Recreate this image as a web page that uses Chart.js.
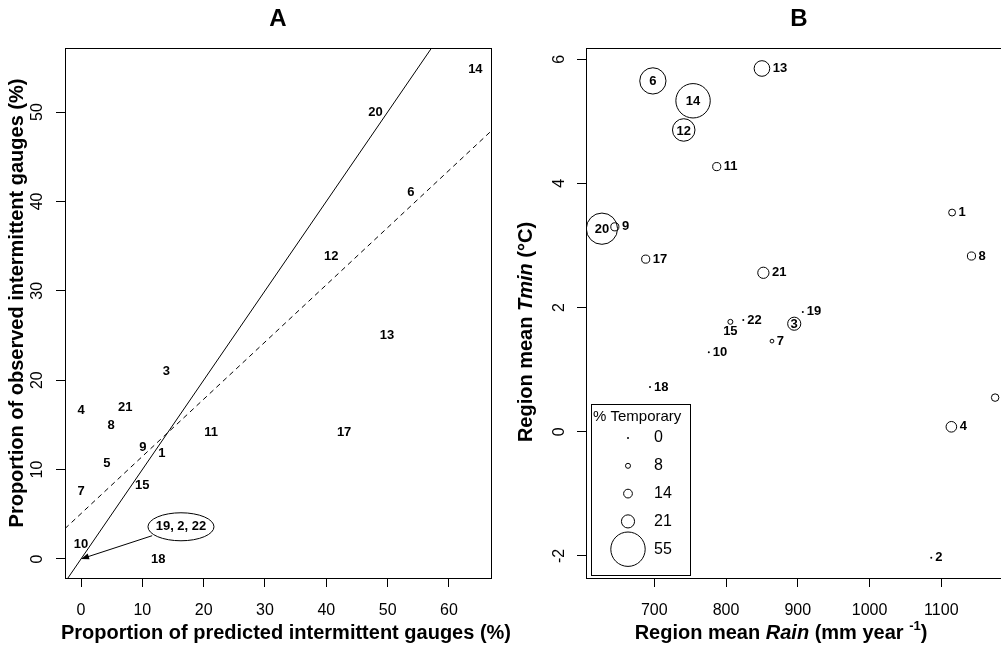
<!DOCTYPE html>
<html>
<head>
<meta charset="utf-8">
<script src="https://cdn.jsdelivr.net/npm/chart.js@4/dist/chart.umd.min.js"></script>
<style>
  html, body { margin: 0; padding: 0; background: #fff; overflow: hidden; }
  #wrap { position: relative; width: 1001px; height: 651px; overflow: hidden; }
  #chartA { position: absolute; left: 0; top: 0; }
  #chartB { position: absolute; left: 500px; top: 0; }
</style>
</head>
<body>
<div id="wrap">
  <canvas id="chartA" width="520" height="651"></canvas>
  <canvas id="chartB" width="512" height="651"></canvas>
</div>
<script>
// Panel A: observed vs predicted proportion of intermittent gauges, by region
var regionsA = ['14', '20', '6', '12', '13', '3', '4', '21', '8', '11', '17', '9', '1', '5', '7', '15', '10', '18'];
var predictedPct = [64.3, 48.0, 53.8, 40.8, 49.9, 13.9, 0, 7.2, 4.9, 21.2, 42.9, 10.1, 13.2, 4.2, 0, 10.0, 0, 12.6];
var observedPct = [54.8, 50.0, 41.0, 33.8, 25.0, 21.0, 16.6, 17.0, 14.9, 14.2, 14.2, 12.5, 11.8, 10.7, 7.6, 8.2, 1.6, 0];
// regions sitting on the origin, shown with a callout
var originRegions = '19, 2, 22';
var calloutAt = [16.3, 3.6];
var arrowFrom = [11.6, 2.6];
var arrowTo = [0, 0];
// lines: [intercept, slope]
var oneToOne = [0, 1];
var fitLine = [5.07, 0.64];
var xTicksA = [0, 10, 20, 30, 40, 50, 60];
var yTicksA = [0, 10, 20, 30, 40, 50];

// Panel B: region mean rain vs Tmin, circle size = % temporary gauges
var regionsB = ['13', '6', '14', '12', '11', '1', '20', '9', '8', '17', '21', '19', '3', '22', '15', '7', '10', '18', '5', '4', '2'];
var rainB = [850, 698, 754, 741, 787, 1115, 627, 645, 1142, 688, 852, 907, 895, 824, 806, 864, 776, 694, 1175, 1114, 1086];
var tminB = [5.85, 5.65, 5.33, 4.86, 4.27, 3.53, 3.27, 3.30, 2.83, 2.78, 2.56, 1.93, 1.74, 1.80, 1.77, 1.46, 1.28, 0.72, 0.55, 0.08, -2.03];
var tempPct = [25, 42, 55, 36, 13, 11, 50, 13, 13, 13, 18, 0, 21, 0, 8, 6, 0, 0, 12, 17, 0];
// where each label goes: c = inside circle, r = right, b = below
var labelPosB = ['r', 'c', 'c', 'c', 'r', 'r', 'c', 'r', 'r', 'r', 'r', 'r', 'c', 'r', 'b', 'r', 'r', 'r', 'r', 'r', 'r'];
var legendPct = [0, 8, 14, 21, 55];
var xTicksB = [700, 800, 900, 1000, 1100];
var yTicksB = [-2, 0, 2, 4, 6];

var FONT = "'Liberation Sans', Arial, Helvetica, sans-serif";
var PX_PER_PCT = 0.3127;

function radiusFor(v) {
  return v === 0 ? 1 : v * PX_PER_PCT;
}

function richText(ctx, parts, cx, cy, angle) {
  ctx.save();
  ctx.translate(cx, cy);
  if (angle) ctx.rotate(angle);
  var total = 0;
  parts.forEach(function (p) {
    ctx.font = p.font;
    p.w = ctx.measureText(p.t).width;
    total += p.w;
  });
  var x = -total / 2;
  ctx.textBaseline = 'middle';
  ctx.textAlign = 'left';
  ctx.fillStyle = '#000';
  parts.forEach(function (p) {
    ctx.font = p.font;
    ctx.fillText(p.t, x, p.dy || 0);
    x += p.w;
  });
  ctx.restore();
}

function lineData(coef, min, max) {
  return [{ x: min, y: coef[0] + coef[1] * min }, { x: max, y: coef[0] + coef[1] * max }];
}

function axisX(min, max, ticks) {
  return {
    type: 'linear', min: min, max: max,
    afterBuildTicks: function (s) { s.ticks = ticks.map(function (v) { return { value: v }; }); },
    afterFit: function (s) { s.height = 73; s.paddingLeft = 0; s.paddingRight = 0; },
    grid: { drawOnChartArea: false, drawTicks: true, tickLength: 9, color: '#000', lineWidth: 1 },
    border: { display: false },
    ticks: {
      color: '#000', font: { family: FONT, size: 16 }, padding: 14, maxRotation: 0, autoSkip: false,
      callback: function (v) { return String(v); }
    }
  };
}

function axisY(min, max, ticks, width) {
  return {
    type: 'linear', min: min, max: max,
    afterBuildTicks: function (s) { s.ticks = ticks.map(function (v) { return { value: v }; }); },
    afterFit: function (s) { s.width = width; s.paddingTop = 0; s.paddingBottom = 0; },
    grid: { drawOnChartArea: false, drawTicks: true, tickLength: 9, color: '#000', lineWidth: 1 },
    border: { display: false },
    ticks: { display: false }
  };
}

function drawYTickLabels(chart, ticks, cx) {
  var ctx = chart.ctx, y = chart.scales.y;
  ticks.forEach(function (v) {
    richText(ctx, [{ t: String(v), font: '16px ' + FONT }], cx, y.getPixelForValue(v), -Math.PI / 2);
  });
}

function drawBox(ctx, a) {
  ctx.save();
  ctx.strokeStyle = '#000';
  ctx.lineWidth = 1;
  ctx.strokeRect(Math.round(a.left) + 0.5, Math.round(a.top) + 0.5, Math.round(a.right - a.left), Math.round(a.bottom - a.top));
  ctx.restore();
}

var xMinA = -2.61, xMaxA = 66.85;

var panelA = {
  id: 'panelA',
  afterDatasetsDraw: function (chart) {
    var ctx = chart.ctx, a = chart.chartArea, sx = chart.scales.x, sy = chart.scales.y;
    drawBox(ctx, a);
    drawYTickLabels(chart, yTicksA, 38);

    regionsA.forEach(function (r, i) {
      richText(ctx, [{ t: r, font: 'bold 13px ' + FONT }], sx.getPixelForValue(predictedPct[i]), sy.getPixelForValue(observedPct[i]));
    });

    // callout for regions at origin
    var ex = sx.getPixelForValue(calloutAt[0]), ey = sy.getPixelForValue(calloutAt[1]);
    ctx.save();
    ctx.strokeStyle = '#000';
    ctx.lineWidth = 1;
    ctx.beginPath();
    ctx.ellipse(ex, ey, 33, 14, 0, 0, Math.PI * 2);
    ctx.stroke();
    richText(ctx, [{ t: originRegions, font: 'bold 13px ' + FONT }], ex, ey);
    var x0 = sx.getPixelForValue(arrowFrom[0]), y0 = sy.getPixelForValue(arrowFrom[1]);
    var x1 = sx.getPixelForValue(arrowTo[0]), y1 = sy.getPixelForValue(arrowTo[1]);
    var ang = Math.atan2(y1 - y0, x1 - x0);
    ctx.beginPath();
    ctx.moveTo(x0, y0);
    ctx.lineTo(x1 - 6 * Math.cos(ang), y1 - 6 * Math.sin(ang));
    ctx.stroke();
    ctx.beginPath();
    ctx.moveTo(x1, y1);
    ctx.lineTo(x1 - 8 * Math.cos(ang) + 3 * Math.sin(ang), y1 - 8 * Math.sin(ang) - 3 * Math.cos(ang));
    ctx.lineTo(x1 - 8 * Math.cos(ang) - 3 * Math.sin(ang), y1 - 8 * Math.sin(ang) + 3 * Math.cos(ang));
    ctx.closePath();
    ctx.fillStyle = '#000';
    ctx.fill();
    ctx.restore();

    richText(ctx, [{ t: 'A', font: 'bold 24px ' + FONT }], (a.left + a.right) / 2, 19);
    richText(ctx, [{ t: 'Proportion of predicted intermittent gauges (%)', font: 'bold 20px ' + FONT }], 286, 633);
    richText(ctx, [{ t: 'Proportion of observed intermittent gauges (%)', font: 'bold 20px ' + FONT }], 17, 303, -Math.PI / 2);
  }
};

new Chart(document.getElementById('chartA'), {
  type: 'scatter',
  data: {
    datasets: [
      {
        label: 'Regions',
        data: predictedPct.map(function (x, i) { return { x: x, y: observedPct[i] }; }),
        pointRadius: 0
      },
      {
        type: 'line', label: '1:1',
        data: lineData(oneToOne, xMinA, xMaxA),
        borderColor: '#000', borderWidth: 1, pointRadius: 0, fill: false
      },
      {
        type: 'line', label: 'Fit',
        data: lineData(fitLine, xMinA, xMaxA),
        borderColor: '#000', borderWidth: 1, borderDash: [5, 4], pointRadius: 0, fill: false
      }
    ]
  },
  options: {
    responsive: false,
    animation: false,
    layout: { autoPadding: false, padding: { top: 48, right: 29, left: 0, bottom: 0 } },
    plugins: { legend: { display: false }, tooltip: { enabled: false } },
    scales: {
      x: axisX(xMinA, xMaxA, xTicksA),
      y: axisY(-2.13, 57.16, yTicksA, 65)
    }
  },
  plugins: [panelA]
});

var panelB = {
  id: 'panelB',
  afterDatasetsDraw: function (chart) {
    var ctx = chart.ctx, a = chart.chartArea, sx = chart.scales.x, sy = chart.scales.y;
    drawBox(ctx, a);
    drawYTickLabels(chart, yTicksB, 60);

    regionsB.forEach(function (r, i) {
      var px = sx.getPixelForValue(rainB[i]), py = sy.getPixelForValue(tminB[i]);
      var rad = radiusFor(tempPct[i]);
      var font = 'bold 13px ' + FONT;
      if (labelPosB[i] === 'c') {
        richText(ctx, [{ t: r, font: font }], px, py + 1);
      } else if (labelPosB[i] === 'b') {
        richText(ctx, [{ t: r, font: font }], px, py + 10);
      } else {
        ctx.save();
        ctx.font = font;
        ctx.fillStyle = '#000';
        ctx.textAlign = 'left';
        ctx.textBaseline = 'middle';
        ctx.fillText(r, px + rad + 3, py);
        ctx.restore();
      }
    });

    // size legend
    ctx.save();
    ctx.strokeStyle = '#000';
    ctx.lineWidth = 1;
    ctx.strokeRect(91.5, 404.5, 99, 171);
    ctx.fillStyle = '#000';
    ctx.font = '15px ' + FONT;
    ctx.textBaseline = 'middle';
    ctx.textAlign = 'left';
    ctx.fillText('% Temporary', 93, 417);
    legendPct.forEach(function (v, i) {
      var ly = 438 + i * 27.8;
      ctx.beginPath();
      if (v === 0) {
        ctx.arc(128, ly, 1, 0, Math.PI * 2);
        ctx.fill();
      } else {
        ctx.arc(128, ly, radiusFor(v), 0, Math.PI * 2);
        ctx.stroke();
      }
      ctx.font = '16px ' + FONT;
      ctx.fillText(String(v), 154, ly);
    });
    ctx.restore();

    var b = 'bold 20px ' + FONT, bi = 'italic bold 20px ' + FONT;
    richText(ctx, [{ t: 'B', font: 'bold 24px ' + FONT }], (a.left + a.right) / 2, 19);
    richText(ctx, [
      { t: 'Region mean ', font: b },
      { t: 'Rain', font: bi },
      { t: ' (mm year ', font: b },
      { t: '-1', font: 'bold 13px ' + FONT, dy: -7 },
      { t: ')', font: b }
    ], 281, 633);
    richText(ctx, [
      { t: 'Region mean ', font: b },
      { t: 'Tmin', font: bi },
      { t: ' (\u00B0C)', font: b }
    ], 26, 332, -Math.PI / 2);
  }
};

new Chart(document.getElementById('chartB'), {
  type: 'scatter',
  data: {
    datasets: [{
      label: '% Temporary',
      data: rainB.map(function (x, i) { return { x: x, y: tminB[i] }; }),
      pointRadius: function (c) { return radiusFor(tempPct[c.dataIndex]); },
      backgroundColor: function (c) { return tempPct[c.dataIndex] === 0 ? '#000' : 'rgba(0,0,0,0)'; },
      borderColor: '#000',
      borderWidth: function (c) { return tempPct[c.dataIndex] === 0 ? 0 : 1; }
    }]
  },
  options: {
    responsive: false,
    animation: false,
    layout: { autoPadding: false, padding: { top: 48, right: 0, left: 0, bottom: 0 } },
    plugins: { legend: { display: false }, tooltip: { enabled: false } },
    scales: {
      x: axisX(604.8, 1198.5, xTicksB),
      y: axisY(-2.355, 6.18, yTicksB, 86)
    }
  },
  plugins: [panelB]
});
</script>
</body>
</html>
